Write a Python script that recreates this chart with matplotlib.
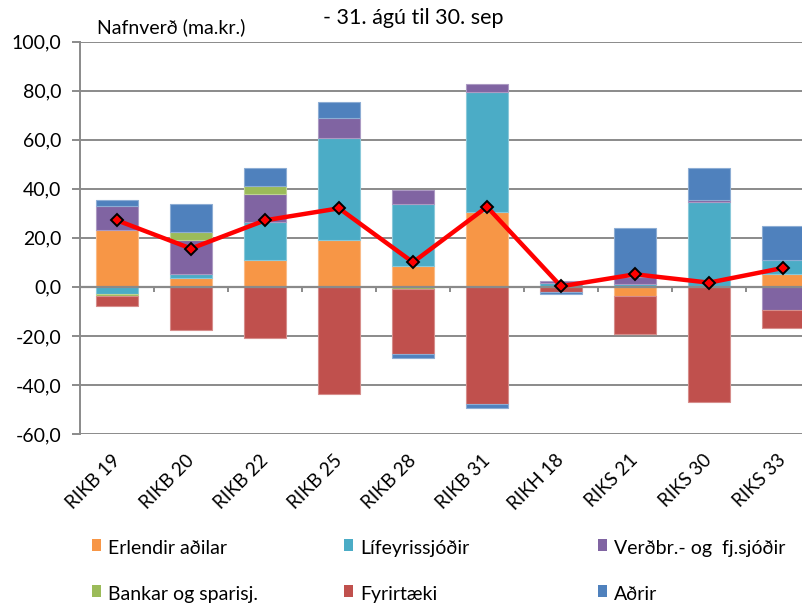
import numpy as np
import matplotlib
matplotlib.use("Agg")
import matplotlib.pyplot as plt
from matplotlib.patches import Rectangle
from matplotlib.colors import to_rgb

plt.rcParams['font.family'] = ['Lato', 'DejaVu Sans']

# Bond series
categories = ["RIKB 19", "RIKB 20", "RIKB 22", "RIKB 25", "RIKB 28",
              "RIKB 31", "RIKH 18", "RIKS 21", "RIKS 30", "RIKS 33"]

# Net purchases by investor group (ma.kr.)
erlendir = [23.1, 3.6, 10.8, 19.0, 8.4, 30.6, 0.0, -3.8, 0.0, 5.1]
lifeyris = [-3.1, 1.5, 15.6, 41.6, 25.3, 48.8, 1.5, 1.1, 34.7, 5.7]
verdbr = [9.8, 13.8, 11.3, 8.2, 5.8, 3.3, 1.0, 2.7, 0.6, -9.3]
bankar = [-0.8, 3.5, 3.3, 0.0, -0.8, 0.0, 0.0, 0.0, 0.0, 0.0]
fyrirtaeki = [-4.0, -17.7, -20.8, -43.7, -26.5, -47.8, -2.1, -15.3, -46.8, -7.4]
adrir = [2.5, 11.3, 7.3, 6.5, -1.6, -1.5, -0.8, 20.0, 13.0, 13.9]

# Net total per bond series
net_total = [27.1, 15.6, 27.1, 32.0, 10.0, 32.6, 0.2, 5.1, 1.7, 7.7]

series_names = ["Erlendir aðilar", "Lífeyrissjóðir", "Verðbr.- og  fj.sjóðir",
                "Bankar og sparisj.", "Fyrirtæki", "Aðrir"]
series_values = [erlendir, lifeyris, verdbr, bankar, fyrirtaeki, adrir]
series_colors = ["#F79646", "#4BACC6", "#8064A2", "#9BBB59", "#C0504D", "#4F81BD"]

y_ticks = [-60, -40, -20, 0, 20, 40, 60, 80, 100]

GRID = "#8a8a8a"


def lighten(color, f):
    r, g, b = to_rgb(color)
    return (r + (1 - r) * f, g + (1 - g) * f, b + (1 - b) * f)


fig = plt.figure(figsize=(8.02, 6.03), dpi=100)
ax = fig.add_axes([80 / 802, 1 - 434 / 603, 740 / 802, (434 - 41.5) / 603])

x = np.arange(len(categories))
pos_base = np.zeros(len(categories))
neg_base = np.zeros(len(categories))
for vals, col in zip(series_values, series_colors):
    v = np.array(vals, dtype=float)
    bottom = np.where(v >= 0, pos_base, neg_base)
    nz = v != 0
    ax.bar(x[nz], v[nz], width=0.57, bottom=bottom[nz], color=col,
           edgecolor=lighten(col, 0.35), linewidth=0.8, zorder=3)
    pos_base += np.where(v > 0, v, 0)
    neg_base += np.where(v < 0, v, 0)

ax.plot(x, net_total, color="#FF0000", linewidth=3.2, marker="D",
        markersize=6, markerfacecolor="#FF0000", markeredgecolor="black",
        markeredgewidth=1.4, zorder=5)

ax.set_xlim(-0.5, len(categories) - 0.5)
ax.set_ylim(-60, 100)
ax.set_yticks(y_ticks)
ax.set_yticklabels([f"{t:.1f}".replace(".", ",") for t in y_ticks], fontsize=14)
ax.yaxis.grid(True, color=GRID, linewidth=1.4, zorder=0)
ax.set_axisbelow(True)

for s in ("top", "right", "bottom"):
    ax.spines[s].set_visible(False)
ax.spines["left"].set_color(GRID)
ax.spines["left"].set_linewidth(1.4)
ax.tick_params(axis="y", direction="out", length=5.5, width=1.4, color=GRID,
               pad=8, labelcolor="black")

# category axis at zero with boundary tick marks
ax.axhline(0, color=GRID, linewidth=1.6, zorder=4)
ax.vlines(np.arange(0.5, len(categories) - 0.5), -2.2, 0, color=GRID,
          linewidth=1.4, zorder=4)

ax.set_xticks(x)
ax.set_xticklabels(categories, rotation=45, ha="right", va="center",
                   rotation_mode="anchor", fontsize=13.5)
ax.tick_params(axis="x", length=0, pad=17)

fig.text(97 / 802, 1 - 33 / 603, "Nafnverð (ma.kr.)", fontsize=14,
         ha="left", va="baseline")
fig.text(413 / 802, 1 - 24 / 603, "- 31. ágú til 30. sep", fontsize=15.5,
         ha="center", va="baseline")

# legend laid out in two rows of three columns
col_x = [92, 344, 598]
row_y = [545, 591]
for k, name in enumerate(series_names):
    r, c = divmod(k, 3)
    mx, my = col_x[c], row_y[r]
    fig.patches.append(Rectangle((mx / 802, 1 - (my + 6) / 603), 9 / 802, 12 / 603,
                                 transform=fig.transFigure,
                                 facecolor=series_colors[k], edgecolor="none"))
    fig.text((mx + 16) / 802, 1 - (my + 9) / 603, name,
             fontsize=14, ha="left", va="baseline")

fig.savefig("out.png", dpi=100)
